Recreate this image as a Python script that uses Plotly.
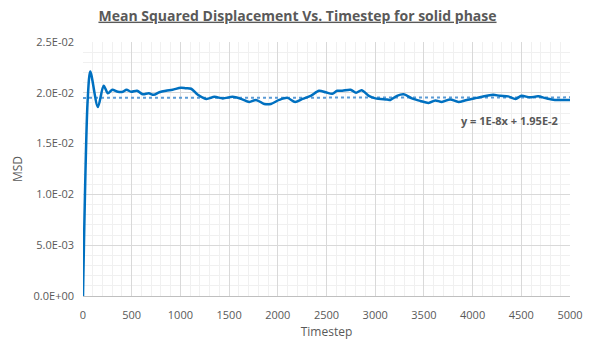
import plotly.graph_objects as go

# MSD curve (timestep, mean squared displacement)
timestep = [0, 48, 75, 153, 212, 256, 300, 358, 409, 447, 494, 555, 613, 675, 726,
            784, 852, 920, 1005, 1056, 1111, 1179, 1265, 1350, 1435, 1537, 1623,
            1708, 1776, 1861, 1929, 2014, 2099, 2178, 2253, 2338, 2423, 2492, 2559,
            2610, 2662, 2747, 2804, 2860, 2935, 3003, 3122, 3156, 3224, 3292, 3377,
            3463, 3548, 3617, 3684, 3770, 3855, 3940, 4042, 4144, 4213, 4281, 4366,
            4441, 4502, 4588, 4673, 4758, 4844, 4928, 5000]
msd = [0.0, 0.0193, 0.0221, 0.0186, 0.0207, 0.01995, 0.0203, 0.0201, 0.0201, 0.0203,
       0.0201, 0.0202, 0.01985, 0.01995, 0.0198, 0.02005, 0.0202, 0.0203, 0.0205,
       0.02045, 0.0204, 0.0198, 0.0194, 0.0196, 0.01945, 0.0196, 0.0194, 0.0191,
       0.0193, 0.0189, 0.0189, 0.0193, 0.0195, 0.0191, 0.0194, 0.0197, 0.0202,
       0.02005, 0.0199, 0.0202, 0.0202, 0.0203, 0.0200, 0.02025, 0.0197, 0.01945,
       0.01935, 0.0193, 0.0197, 0.01985, 0.01945, 0.0192, 0.0190, 0.01925, 0.0191,
       0.01935, 0.0191, 0.0193, 0.0195, 0.0197, 0.0198, 0.0197, 0.01965, 0.0194,
       0.0197, 0.01955, 0.01965, 0.01945, 0.0193, 0.0193, 0.0193]

# Linear trendline y = slope*x + intercept
slope = 1e-8
intercept = 1.95e-2
trend_x = [0, 5000]
trend_y = [slope * x + intercept for x in trend_x]

x_ticks = [0, 500, 1000, 1500, 2000, 2500, 3000, 3500, 4000, 4500, 5000]
y_ticks = [0.0, 0.005, 0.010, 0.015, 0.020, 0.025]
y_tick_text = ["0.0E+00", "5.0E-03", "1.0E-02", "1.5E-02", "2.0E-02", "2.5E-02"]

grey = "#595959"
font = "Open Sans"

fig = go.Figure()
fig.add_trace(go.Scatter(
    x=trend_x, y=trend_y, mode="lines",
    line=dict(color="#5B9BD5", width=2, dash="dot"),
    hoverinfo="skip", showlegend=False,
))
fig.add_trace(go.Scatter(
    x=timestep, y=msd, mode="lines",
    line=dict(color="#0070C0", width=2.5, shape="spline", smoothing=0.8),
    showlegend=False,
))

fig.add_annotation(
    x=4380, y=0.0173, xref="x", yref="y",
    text="<b>y = 1E-8x + 1.95E-2</b>", showarrow=False,
    font=dict(family=font, size=11, color=grey),
)

fig.update_layout(
    width=595, height=350,
    margin=dict(l=83, r=23, t=42, b=54),
    paper_bgcolor="white", plot_bgcolor="white",
    font=dict(family=font, size=11, color=grey),
    title=dict(
        text="<b><u>Mean Squared Displacement Vs. Timestep for solid phase</u></b>",
        x=0.5, xanchor="center", y=0.955, yanchor="middle",
        font=dict(family=font, size=14, color=grey),
    ),
)

fig.update_xaxes(
    range=[0, 5000], tickvals=x_ticks, ticks="",
    ticklabelstandoff=9,
    showgrid=True, gridcolor="#d9d9d9", gridwidth=1,
    minor=dict(dtick=100, showgrid=True, gridcolor="#f0f0f0", gridwidth=1),
    showline=True, linecolor="#bfbfbf", linewidth=1,
    zeroline=False,
    title=dict(text="Timestep", font=dict(family=font, size=12, color=grey), standoff=6),
    tickfont=dict(family=font, size=11, color=grey),
)
fig.update_yaxes(
    range=[0, 0.025], tickvals=y_ticks, ticktext=y_tick_text, ticks="",
    ticklabelstandoff=8,
    showgrid=True, gridcolor="#d9d9d9", gridwidth=1,
    minor=dict(dtick=0.001, showgrid=True, gridcolor="#f0f0f0", gridwidth=1),
    showline=False, zeroline=False,
    title=dict(text="MSD", font=dict(family=font, size=12, color=grey), standoff=8),
    tickfont=dict(family=font, size=11, color=grey),
)

fig.write_html("out.html")
